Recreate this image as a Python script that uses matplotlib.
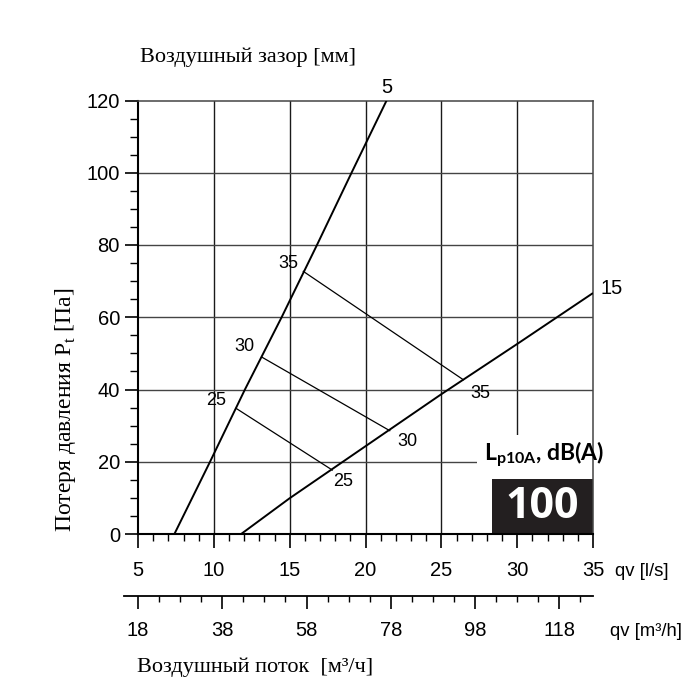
import matplotlib
matplotlib.use('Agg')
import matplotlib.pyplot as plt
from matplotlib.patches import Rectangle
from matplotlib.ticker import MultipleLocator, FixedLocator

# ---- data ----
gap5_q = [7.4, 9.75, 12.05, 14.47, 16.8, 19.08, 21.39]      # l/s
gap5_p = [0, 20, 40, 60, 80, 100, 120]                       # Pa
gap15_q = [11.8, 15, 20, 25, 30, 35]
gap15_p = [0, 9.9, 24.3, 38.7, 52.6, 66.7]
gap_labels = ['5', '15']

db_levels = [25, 30, 35]
db_q_start = [11.46, 13.15, 15.9]
db_p_start = [34.8, 49.0, 72.7]
db_q_end = [17.81, 21.6, 26.45]
db_p_end = [17.7, 28.6, 42.7]

x_ls_ticks = [5, 10, 15, 20, 25, 30, 35]
y_ticks = [0, 20, 40, 60, 80, 100, 120]
m3h_ticks = [18, 38, 58, 78, 98, 118]
box_value = '100'

SANS = ['Liberation Sans', 'DejaVu Sans']
SERIF = ['Liberation Serif', 'DejaVu Serif']
plt.rcParams['font.family'] = SANS

W = 700.0
fig = plt.figure(figsize=(7, 7), dpi=100)


def rect(x0, y0, x1, y1):
    return [x0 / W, 1 - y1 / W, (x1 - x0) / W, (y1 - y0) / W]


ax = fig.add_axes(rect(138, 100.5, 593, 534))
ax.set_xlim(x_ls_ticks[0], x_ls_ticks[-1])
ax.set_ylim(y_ticks[0], y_ticks[-1])

# grid
for xv in x_ls_ticks[1:-1]:
    ax.axvline(xv, color='#1a1a1a', lw=1.0, zorder=1)
for yv in y_ticks[1:-1]:
    ax.axhline(yv, color='#444444', lw=1.0, zorder=1)

# white background behind the legend label & black box
ax.add_patch(Rectangle((0.745, 0.127), 0.26, 0.102, transform=ax.transAxes,
                       facecolor='white', edgecolor='none', zorder=1.5))
ax.add_patch(Rectangle((0.778, 0.0), 0.222, 0.126, transform=ax.transAxes,
                       facecolor='#231f20', edgecolor='none', zorder=2))
ax.text(0.889, 0.064, box_value, transform=ax.transAxes, ha='center', va='center',
        color='white', fontsize=31, fontweight='bold', family=['Open Sans', 'DejaVu Sans'],
        zorder=3)
ax.text(0.7604, 0.169, r'L$_{\mathregular{p10A}}$, dB(A)', transform=ax.transAxes,
        ha='left', va='baseline', fontsize=16.5, fontweight='bold',
        family=['Lato', 'DejaVu Sans'], zorder=3)

# curves
ax.plot(gap5_q, gap5_p, color='black', lw=1.4, zorder=3, solid_capstyle='butt')
ax.plot(gap15_q, gap15_p, color='black', lw=1.4, zorder=3, solid_capstyle='butt')
ax.annotate(gap_labels[0], (gap5_q[-1], gap5_p[-1]), xytext=(0, 9.5), textcoords='offset points',
            ha='center', va='center', fontsize=14.5, annotation_clip=False)
ax.annotate(gap_labels[1], (gap15_q[-1], gap15_p[-1]), xytext=(13.5, 3), textcoords='offset points',
            ha='center', va='center', fontsize=14.5, annotation_clip=False)

# dB lines
left_off = [(-14.4, 5.3), (-12.5, 7.6), (-10.8, 6.0)]
right_off = [(7.5, -8.4), (12.5, -7.9), (12.0, -9.6)]
for i, lvl in enumerate(db_levels):
    ax.plot([db_q_start[i], db_q_end[i]], [db_p_start[i], db_p_end[i]], color='black', lw=0.9, zorder=3)
    ax.annotate(str(lvl), (db_q_start[i], db_p_start[i]), xytext=left_off[i], textcoords='offset points',
                ha='center', va='center', fontsize=13)
    ax.annotate(str(lvl), (db_q_end[i], db_p_end[i]), xytext=right_off[i], textcoords='offset points',
                ha='center', va='center', fontsize=13)

# spines & ticks
for s in ['left', 'bottom']:
    ax.spines[s].set_linewidth(1.5)
    ax.spines[s].set_color('black')
for s in ['top', 'right']:
    ax.spines[s].set_linewidth(1.1)
    ax.spines[s].set_color('#444444')
for sp in ax.spines.values():
    sp.set_zorder(2.5)

ax.set_xticks(x_ls_ticks)
ax.set_yticks(y_ticks)
ax.xaxis.set_minor_locator(MultipleLocator(1))
ax.yaxis.set_minor_locator(MultipleLocator(5))
ax.tick_params(axis='x', which='major', direction='out', length=10, width=1.2, labelsize=14.5, pad=9.5)
ax.tick_params(axis='x', which='minor', direction='out', length=5, width=1.0)
ax.tick_params(axis='y', which='major', direction='out', length=9.4, width=1.2, labelsize=14.5, pad=3.6)
ax.tick_params(axis='y', which='minor', direction='out', length=5.5, width=1.0)

# second axis: m3/h
lo = m3h_ticks[0] - 14 * (x_ls_ticks[-1] - x_ls_ticks[0]) * 3.6 / 455.0
ax2 = fig.add_axes(rect(124, 595.0, 593, 596.0))
ax2.set_xlim(lo, x_ls_ticks[-1] * 3.6)
ax2.set_ylim(0, 1)
ax2.patch.set_visible(False)
for s in ['left', 'right', 'top']:
    ax2.spines[s].set_visible(False)
ax2.spines['bottom'].set_linewidth(1.3)
ax2.set_yticks([])
ax2.set_xticks(m3h_ticks)
ax2.xaxis.set_minor_locator(FixedLocator([v for v in range(m3h_ticks[0], int(x_ls_ticks[-1] * 3.6), 5)
                                          if v not in m3h_ticks]))
ax2.tick_params(axis='x', which='major', direction='out', length=9.6, width=1.2, labelsize=14.5, pad=8.4)
ax2.tick_params(axis='x', which='minor', direction='out', length=4.5, width=1.0)

# texts
fig.text(642 / W, 1 - 571 / W, 'qv [l/s]', ha='center', va='center', fontsize=13.3)
fig.text(646 / W, 1 - 631 / W, 'qv [m³/h]', ha='center', va='center', fontsize=13.3)
fig.text(140 / W, 1 - 61.7 / W, 'Воздушный зазор [мм]', ha='left', va='baseline',
         fontsize=16, family=SERIF)
fig.text(137 / W, 1 - 671.7 / W, 'Воздушный поток  [м³/ч]', ha='left', va='baseline',
         fontsize=16, family=SERIF)
fig.text(65 / W, 1 - 410 / W, r'Потеря давления P$_{\mathregular{t}}$ [Па]', ha='center', va='center',
         rotation=90, fontsize=17, family=SERIF)

fig.savefig('out.png', dpi=100, facecolor='white')
